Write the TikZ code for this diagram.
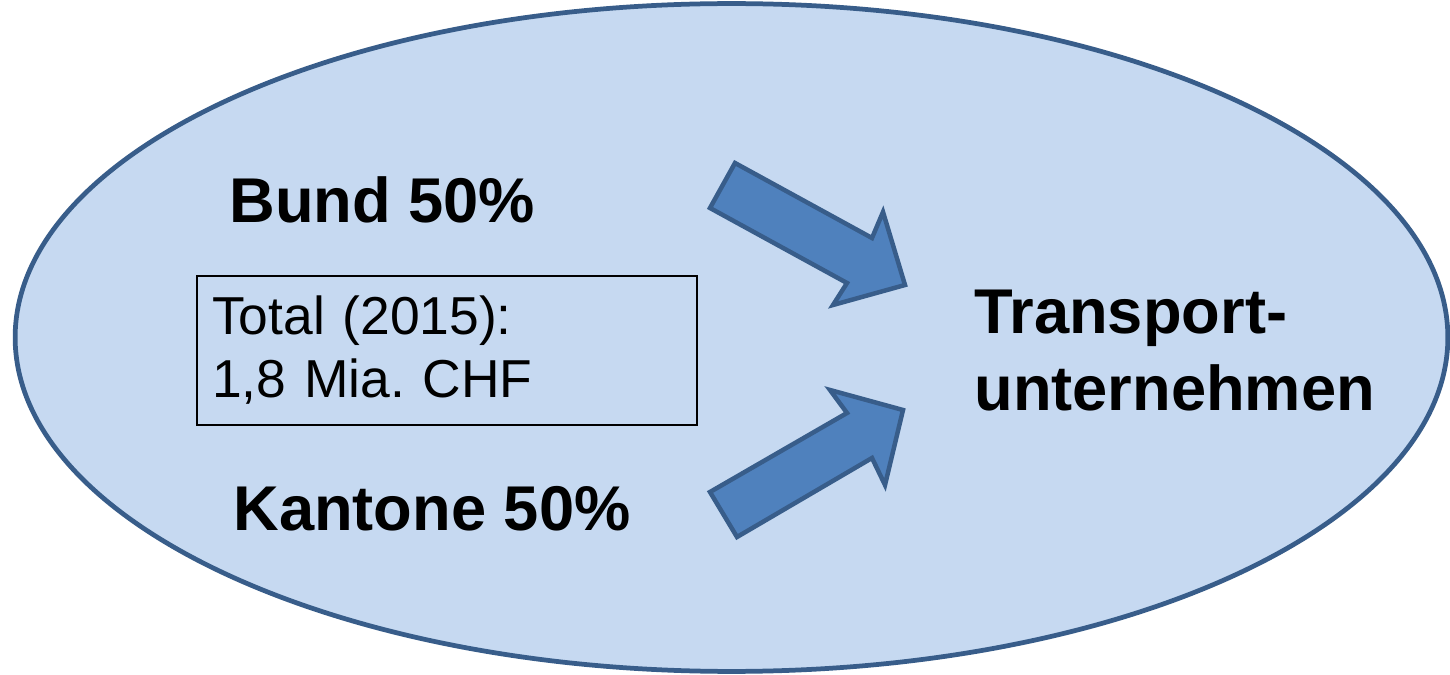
\documentclass[tikz,border=0pt]{standalone}
\usepackage{fontspec}
\setmainfont{Liberation Sans}
\usetikzlibrary{shapes.geometric}

\definecolor{ovalfill}{HTML}{C6D9F1}
\definecolor{ovaledge}{HTML}{385D8A}
\definecolor{arrowfill}{HTML}{4F81BD}

\begin{document}
\frenchspacing
\begin{tikzpicture}[
    x=0.02cm, y=-0.02cm,
    oval/.style={draw=ovaledge, fill=ovalfill, ellipse, line width=0.095cm,
        minimum width=28.66cm, minimum height=13.36cm, inner sep=0pt},
    party/.style={anchor=base west, inner sep=0pt,
        font=\fontsize{36pt}{43.8pt}\selectfont\bfseries},
    target/.style={anchor=base west, inner sep=0pt, align=left,
        font=\fontsize{36pt}{43.8pt}\selectfont\bfseries},
    totalbox/.style={draw=black, line width=0.03cm, rectangle,
        minimum width=10cm, minimum height=2.98cm, inner xsep=0.3cm,
        text width=9.4cm, align=left,
        font=\fontsize{30.4pt}{35.9pt}\selectfont},
    blockarrow/.style={draw=ovaledge, fill=arrowfill, line width=0.09cm,
        line join=miter},
]
\useasboundingbox (0,0) rectangle (1450,675);

% === Oval ===
\node[oval] (oval) at (731.5,337.5) {};

% === Sources ===
\node[party] (bund) at (229,223) {Bund 50\%};
\node[party] (kantone) at (233,530) {Kantone 50\%};

% === Total ===
\node[totalbox] (total) at (447,350.5) {Total (2015):\\1,8 Mia. CHF};

% === Recipient ===
\node[target] (tu) at (974,410) {Transport-\\unternehmen};

% === Block arrows ===
\draw[blockarrow] (735,163) -- (872,238) -- (883,212) -- (905,285)
    -- (833,305) -- (847,283) -- (710,208) -- cycle;
\draw[blockarrow] (710,492) -- (847,413) -- (830,390) -- (903,410)
    -- (885,485) -- (872,458) -- (737,537) -- cycle;

\end{tikzpicture}
\end{document}
